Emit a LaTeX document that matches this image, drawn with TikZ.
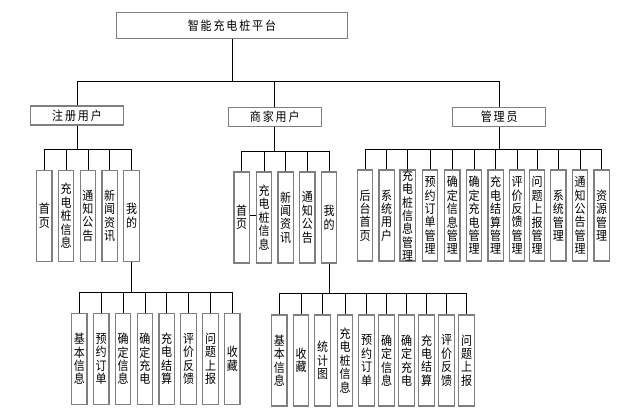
\documentclass[tikz,border=0pt]{standalone}
\usepackage{fontspec}
\setmainfont{Noto Sans CJK SC}[FakeStretch=0.88]
\newfontfamily\hfont{Noto Sans CJK SC}[FakeStretch=0.88,LetterSpace=15]
\definecolor{boxgray}{HTML}{7F7F7F}
\newcommand\vbx[3]{\node[vbox] (#1) at (#2) {};\node[vtext] (#1t) at (#1.center) {#3};}
\begin{document}
\begin{tikzpicture}[x=1pt,y=-1pt,
  box/.style={draw=boxgray,line width=1.2pt,fill=white,inner sep=0pt},
  hbox/.style={box,font=\hfont\fontsize{12.5}{13.5}\selectfont},
  vbox/.style={box,minimum width=15.5pt,minimum height=91pt},
  vtext/.style={inner sep=0pt,align=center,font=\fontsize{12.5}{13.4}\selectfont},
  conn/.style={draw=black,line width=0.8pt}]
\useasboundingbox[fill=white] (0,0) rectangle (619,413);
% top levels
\node[hbox,minimum width=231pt,minimum height=26pt] (top) at (232,25.3) {智能充电桩平台};
\node[hbox,minimum width=93pt,minimum height=19pt] (reg) at (77,115.5) {注册用户};
\node[hbox,minimum width=93pt,minimum height=19pt] (mer) at (274.8,117.2) {商家用户};
\node[hbox,minimum width=93pt,minimum height=19pt] (adm) at (499.2,117) {管理员};
% level 3 left
\vbx{l1}{44.3,215.8}{首\\页}
\vbx{l2}{66.1,215.8}{充\\电\\桩\\信\\息}
\vbx{l3}{87.9,215.8}{通\\知\\公\\告}
\vbx{l4}{109.7,215.8}{新\\闻\\资\\讯}
\vbx{l5}{131.5,215.8}{我\\的}
% level 3 middle
\vbx{m1}{241.7,217.5}{首\\页}
\vbx{m2}{264,217.5}{充\\电\\桩\\信\\息}
\vbx{m3}{285.7,217.5}{新\\闻\\资\\讯}
\vbx{m4}{307.3,217.5}{通\\知\\公\\告}
\vbx{m5}{329,217.5}{我\\的}
% level 3 admin
\vbx{a1}{365,215.5}{后\\台\\首\\页}
\vbx{a2}{386.7,215.5}{系\\统\\用\\户}
\vbx{a3}{407.7,215.5}{充\\电\\桩\\信\\息\\管\\理}
\vbx{a4}{430,215.5}{预\\约\\订\\单\\管\\理}
\vbx{a5}{452.3,215.5}{确\\定\\信\\息\\管\\理}
\vbx{a6}{474,215.5}{确\\定\\充\\电\\管\\理}
\vbx{a7}{495.7,215.5}{充\\电\\结\\算\\管\\理}
\vbx{a8}{517,215.5}{评\\价\\反\\馈\\管\\理}
\vbx{a9}{537,215.5}{问\\题\\上\\报\\管\\理}
\vbx{a10}{558.3,215.5}{系\\统\\管\\理}
\vbx{a11}{580,215.5}{通\\知\\公\\告\\管\\理}
\vbx{a12}{601.7,215.5}{资\\源\\管\\理}
% level 4 left
\vbx{p1}{79.3,358.9}{基\\本\\信\\息}
\vbx{p2}{101.2,358.9}{预\\约\\订\\单}
\vbx{p3}{123,358.9}{确\\定\\信\\息}
\vbx{p4}{144.9,358.9}{确\\定\\充\\电}
\vbx{p5}{166.7,358.9}{充\\电\\结\\算}
\vbx{p6}{188.6,358.9}{评\\价\\反\\馈}
\vbx{p7}{210.5,358.9}{问\\题\\上\\报}
\vbx{p8}{232.3,358.9}{收\\藏}
% level 4 middle
\vbx{q1}{279.3,360.5}{基\\本\\信\\息}
\vbx{q2}{301,360.5}{收\\藏}
\vbx{q3}{322.6,360.5}{统\\计\\图}
\vbx{q4}{345,360.5}{充\\电\\桩\\信\\息}
\vbx{q5}{366.6,360.5}{预\\约\\订\\单}
\vbx{q6}{386.6,360.5}{确\\定\\信\\息}
\vbx{q7}{406.6,360.5}{确\\定\\充\\电}
\vbx{q8}{426.6,360.5}{充\\电\\结\\算}
\vbx{q9}{446.6,360.5}{评\\价\\反\\馈}
\vbx{q10}{466.6,360.5}{问\\题\\上\\报}
% buses
\coordinate (b0) at (232,81);
\coordinate (b1) at (77,149.3);
\coordinate (b2) at (274.8,151);
\coordinate (b3) at (499.2,149);
\coordinate (b4) at (131.5,292.7);
\coordinate (b5) at (329,293.3);
\coordinate (dy) at (0,215.7);
% connectors
\draw[conn] (top.south) -- (b0);
\foreach \n in {reg,mer,adm} \draw[conn] (\n.north) |- (b0);
\draw[conn] (reg.south) -- (b1);
\foreach \n in {l1,l2,l3,l4,l5} \draw[conn] (\n.north) |- (b1);
\draw[conn] (mer.south) -- (b2);
\foreach \n in {m1,m2,m3,m4,m5} \draw[conn] (\n.north) |- (b2);
\draw[conn] (adm.south) -- (b3);
\foreach \n in {a1,a2,a3,a4,a5,a6,a7,a8,a9,a10,a11,a12} \draw[conn] (\n.north) |- (b3);
\draw[conn] (l5.south) -- (b4);
\foreach \n in {p1,p2,p3,p4,p5,p6,p7,p8} \draw[conn] (\n.north) |- (b4);
\draw[conn] (m5.south) -- (b5);
\foreach \n in {q1,q2,q3,q4,q5,q6,q7,q8,q9,q10} \draw[conn] (\n.north) |- (b5);
\draw[conn] (m1.east |- dy) -- (m2.west |- dy);
\end{tikzpicture}
\end{document}
